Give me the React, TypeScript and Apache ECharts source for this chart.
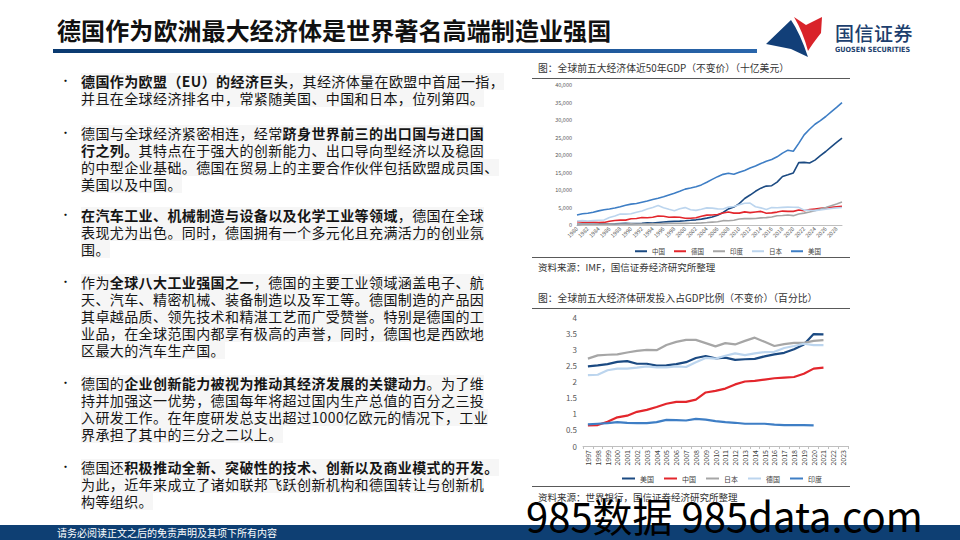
import React, { useEffect, useRef } from "react";
import * as echarts from "echarts";

// ---------- Chart 1: GDP (billion USD) ----------
const gdpYears: string[] = [];
for (let y = 1980; y <= 2029; y++) gdpYears.push(String(y));

const gdpChina = [191, 196, 205, 230, 260, 309, 301, 327, 408, 457, 395, 415, 495, 623, 566, 736, 867, 965, 1032, 1097, 1214, 1344, 1477, 1671, 1966, 2309, 2775, 3572, 4605, 5122, 6103, 7573, 8560, 9625, 10534, 11114, 11227, 12265, 13842, 14341, 14863, 17820, 17882, 17700, 18530, 19800, 21000, 22300, 23600, 24850];
const gdpGermany = [950, 800, 777, 771, 725, 740, 1049, 1300, 1400, 1398, 1771, 1869, 2123, 2068, 2206, 2592, 2503, 2218, 2243, 2200, 1950, 1950, 2079, 2506, 2815, 2846, 2992, 3421, 3730, 3398, 3396, 3744, 3527, 3733, 3890, 3357, 3469, 3690, 3975, 3889, 3887, 4278, 4082, 4430, 4590, 4750, 4900, 5050, 5200, 5350];
const gdpIndia = [186, 196, 204, 222, 215, 237, 253, 284, 300, 302, 327, 284, 293, 284, 333, 366, 400, 424, 429, 467, 477, 494, 524, 618, 722, 834, 949, 1238, 1224, 1365, 1708, 1823, 1828, 1857, 2039, 2104, 2295, 2651, 2702, 2835, 2672, 3150, 3390, 3730, 4110, 4550, 5000, 5500, 6000, 6550];
const gdpJapan = [1129, 1246, 1159, 1263, 1349, 1428, 2121, 2585, 3125, 3117, 3196, 3657, 3988, 4544, 4998, 5546, 4923, 4492, 4098, 4636, 4968, 4374, 4183, 4519, 4894, 4831, 4601, 4579, 5106, 5289, 5759, 6233, 6272, 5212, 4897, 4445, 5004, 4931, 5041, 5118, 5055, 5034, 4256, 4213, 4110, 4300, 4500, 4700, 4850, 5000];
const gdpUS = [2857, 3207, 3343, 3634, 4037, 4339, 4580, 4855, 5236, 5642, 5963, 6158, 6520, 6859, 7287, 7640, 8073, 8578, 9063, 9631, 10251, 10582, 10929, 11457, 12217, 13039, 13816, 14474, 14770, 14478, 15049, 15600, 16254, 16843, 17551, 18206, 18695, 19477, 20533, 21381, 21060, 23315, 25744, 27358, 28781, 29800, 31000, 32300, 33600, 34950];

// ---------- Chart 2: R&D share of GDP (%) ----------
const rdYears: string[] = [];
for (let y = 1997; y <= 2023; y++) rdYears.push(String(y));

const rdUS = [2.47, 2.5, 2.54, 2.61, 2.63, 2.55, 2.55, 2.49, 2.5, 2.54, 2.6, 2.73, 2.79, 2.72, 2.74, 2.67, 2.69, 2.7, 2.78, 2.84, 2.89, 3.0, 3.15, 3.47, 3.46];
const rdChina = [0.64, 0.65, 0.75, 0.89, 0.94, 1.06, 1.12, 1.21, 1.31, 1.37, 1.37, 1.44, 1.66, 1.71, 1.78, 1.91, 2.0, 2.02, 2.06, 2.1, 2.12, 2.14, 2.24, 2.4, 2.43];
const rdJapan = [2.71, 2.81, 2.83, 2.84, 2.9, 2.95, 2.98, 2.97, 3.13, 3.23, 3.29, 3.29, 3.19, 3.09, 3.19, 3.15, 3.26, 3.36, 3.23, 3.1, 3.16, 3.2, 3.2, 3.26, 3.28];
const rdGermany = [2.2, 2.21, 2.35, 2.4, 2.4, 2.43, 2.47, 2.44, 2.44, 2.47, 2.45, 2.6, 2.73, 2.71, 2.8, 2.87, 2.82, 2.87, 2.91, 2.92, 3.04, 3.1, 3.17, 3.13, 3.13];
const rdIndia = [0.67, 0.69, 0.71, 0.74, 0.72, 0.71, 0.71, 0.74, 0.81, 0.8, 0.79, 0.84, 0.82, 0.77, 0.74, 0.72, 0.69, 0.69, 0.69, 0.66, 0.65, 0.65, 0.65, 0.64];

const FONT = '"Noto Sans CJK SC", "Noto Sans", sans-serif';
const NAVY = "#1b4a82";
const RED = "#e3262c";
const GRAY = "#a6a6a6";
const LIGHT = "#bcd5ee";
const MID = "#3e7ec5";

function line(name: string, data: (number | null)[], color: string, width: number) {
  return {
    name,
    type: "line",
    data,
    showSymbol: false,
    symbol: "none",
    lineStyle: { color, width },
    itemStyle: { color },
  };
}

const option1 = {
  animation: false,
  textStyle: { fontFamily: FONT },
  grid: { left: 57, right: 18, top: 5, bottom: 40 },
  legend: {
    left: 110,
    top: 163,
    itemWidth: 12,
    itemHeight: 2,
    itemGap: 9,
    icon: "rect",
    textStyle: { fontSize: 6.5, color: "#404040", fontFamily: FONT },
    data: ["中国", "德国", "印度", "日本", "美国"],
  },
  xAxis: {
    type: "category",
    data: gdpYears,
    boundaryGap: false,
    axisLine: { lineStyle: { color: "#bfbfbf" } },
    axisTick: { show: false },
    axisLabel: { rotate: 45, interval: 1, fontSize: 5.5, color: "#595959", margin: 3 },
  },
  yAxis: {
    type: "value",
    min: 0,
    max: 40000,
    interval: 5000,
    splitLine: { show: false },
    axisLine: { show: false },
    axisTick: { show: false },
    axisLabel: { fontSize: 5.5, color: "#595959", margin: 5 },
  },
  series: [
    line("中国", gdpChina, NAVY, 1.6),
    line("德国", gdpGermany, RED, 1.6),
    line("印度", gdpIndia, GRAY, 1.6),
    line("日本", gdpJapan, LIGHT, 1.6),
    line("美国", gdpUS, MID, 1.6),
  ],
};

const option2 = {
  animation: false,
  textStyle: { fontFamily: FONT },
  grid: { left: 63, right: 12, top: 7, bottom: 44 },
  legend: {
    left: 97,
    top: 160,
    itemWidth: 13,
    itemHeight: 2,
    itemGap: 10,
    icon: "rect",
    textStyle: { fontSize: 7, color: "#404040", fontFamily: FONT },
    data: ["美国", "中国", "日本", "德国", "印度"],
  },
  xAxis: {
    type: "category",
    data: rdYears,
    boundaryGap: true,
    axisLine: { lineStyle: { color: "#bfbfbf" } },
    axisTick: { show: true, length: 3, lineStyle: { color: "#bfbfbf" } },
    axisLabel: { rotate: 90, interval: 0, fontSize: 7, color: "#404040", margin: 4 },
  },
  yAxis: {
    type: "value",
    min: 0,
    max: 4,
    interval: 0.5,
    splitLine: { show: false },
    axisLine: { show: false },
    axisTick: { show: false },
    axisLabel: { fontSize: 8, color: "#595959", margin: 6 },
  },
  series: [
    line("美国", rdUS, NAVY, 2.2),
    line("中国", rdChina, RED, 2.2),
    line("日本", rdJapan, GRAY, 2.2),
    line("德国", rdGermany, LIGHT, 2.2),
    line("印度", rdIndia, MID, 2.2),
  ],
};

function EChart({ option, style }: { option: any; style: React.CSSProperties }) {
  const ref = useRef<HTMLDivElement>(null);
  useEffect(() => {
    const chart = echarts.init(ref.current as HTMLDivElement, null, { renderer: "svg" });
    chart.setOption(option);
    return () => chart.dispose();
  }, []);
  return <div ref={ref} style={style} />;
}

type Seg = [string, boolean?];
const paragraphs: { top: number; lines: Seg[][] }[] = [
  {
    top: 81,
    lines: [
      [["德国作为欧盟（EU）的经济巨头", true], ["，其经济体量在欧盟中首屈一指，"]],
      [["并且在全球经济排名中，常紧随美国、中国和日本，位列第四。"]],
    ],
  },
  {
    top: 133,
    lines: [
      [["德国与全球经济紧密相连，经常"], ["跻身世界前三的出口国与进口国", true]],
      [["行之列。", true], ["其特点在于强大的创新能力、出口导向型经济以及稳固"]],
      [["的中型企业基础。德国在贸易上的主要合作伙伴包括欧盟成员国、"]],
      [["美国以及中国。"]],
    ],
  },
  {
    top: 215,
    lines: [
      [["在汽车工业、机械制造与设备以及化学工业等领域", true], ["，德国在全球"]],
      [["表现尤为出色。同时，德国拥有一个多元化且充满活力的创业氛"]],
      [["围。"]],
    ],
  },
  {
    top: 282,
    lines: [
      [["作为"], ["全球八大工业强国之一", true], ["，德国的主要工业领域涵盖电子、航"]],
      [["天、汽车、精密机械、装备制造以及军工等。德国制造的产品因"]],
      [["其卓越品质、领先技术和精湛工艺而广受赞誉。特别是德国的工"]],
      [["业品，在全球范围内都享有极高的声誉，同时，德国也是西欧地"]],
      [["区最大的汽车生产国。"]],
    ],
  },
  {
    top: 383,
    lines: [
      [["德国的"], ["企业创新能力被视为推动其经济发展的关键动力", true], ["。为了维"]],
      [["持并加强这一优势，德国每年将超过国内生产总值的百分之三投"]],
      [["入研发工作。在年度研发总支出超过1000亿欧元的情况下，工业"]],
      [["界承担了其中的三分之二以上。"]],
    ],
  },
  {
    top: 467,
    lines: [
      [["德国还"], ["积极推动全新、突破性的技术、创新以及商业模式的开发。", true]],
      [["为此，近年来成立了诸如联邦飞跃创新机构和德国转让与创新机"]],
      [["构等组织。"]],
    ],
  },
];

export default function App() {
  const abs = (s: React.CSSProperties): React.CSSProperties => ({ position: "absolute", ...s });
  return (
    <div
      style={{
        position: "absolute",
        left: 0,
        top: 0,
        width: 960,
        height: 540,
        background: "#ffffff",
        overflow: "hidden",
        fontFamily: FONT,
      }}
    >
      {/* Title */}
      <div
        style={abs({
          left: 57,
          top: 14,
          fontSize: 24,
          fontWeight: 700,
          color: "#111",
          lineHeight: "32px",
          whiteSpace: "nowrap",
          letterSpacing: 0.1,
        })}
      >
        德国作为欧洲最大经济体是世界著名高端制造业强国
      </div>
      <div
        style={abs({
          left: 53,
          top: 49,
          width: 704,
          height: 4,
          background: "linear-gradient(90deg, #0a3a70 0%, #184f8f 60%, #2a66ab 100%)",
        })}
      />

      {/* Logo */}
      <svg style={abs({ left: 760, top: 10, width: 70, height: 52 })} viewBox="760 10 70 52">
        <path d="M 766 44 L 791 20 Q 800 33 808 57 L 791 49 Z" fill="#123f78" />
        <path d="M 794 17 L 806 25 L 822 17 L 821 33 Q 813 43 808 51 Q 803 32 794 17 Z" fill="#d9232a" />
      </svg>
      <div
        style={abs({
          left: 835,
          top: 21,
          fontSize: 19,
          fontWeight: 500,
          color: "#1d3f6e",
          lineHeight: "24px",
          whiteSpace: "nowrap",
          letterSpacing: 0.5,
        })}
      >
        国信证券
      </div>
      <div
        style={abs({
          left: 835,
          top: 45,
          fontSize: 7.2,
          fontWeight: 700,
          color: "#1d3f6e",
          lineHeight: "10px",
          whiteSpace: "nowrap",
          fontFamily: '"Liberation Sans Narrow", "DejaVu Sans Condensed", sans-serif',
        })}
      >
        GUOSEN SECURITIES
      </div>

      {/* Body text */}
      {paragraphs.map((p, pi) => (
        <React.Fragment key={pi}>
          <div style={abs({ left: 60, top: p.top - 9, fontSize: 11, lineHeight: "17px", color: "#111" })}>•</div>
          {p.lines.map((ln, li) => (
            <div
              key={li}
              style={abs({
                left: 81,
                top: p.top - 8.5 + li * 17,
                height: 17,
                fontSize: 14,
                letterSpacing: 0.4,
                lineHeight: "17px",
                color: "#151515",
                whiteSpace: "nowrap",
                background: "#f6f6f6",
              })}
            >
              {ln.map((s, si) => (
                <span key={si} style={{ fontWeight: s[1] ? 700 : 400 }}>
                  {s[0]}
                </span>
              ))}
            </div>
          ))}
        </React.Fragment>
      ))}

      {/* Chart 1 */}
      <div style={abs({ left: 538, top: 61, fontSize: 9.8, color: "#333", whiteSpace: "nowrap", lineHeight: "14px" })}>
        图：全球前五大经济体近50年GDP（不变价）（十亿美元）
      </div>
      <div style={abs({ left: 532, top: 78, width: 318, height: 1, background: "#595959" })} />
      <EChart option={option1} style={abs({ left: 520, top: 80, width: 340, height: 185 })} />
      <div style={abs({ left: 532, top: 257, width: 318, height: 1, background: "#595959" })} />
      <div style={abs({ left: 538, top: 260, fontSize: 9.5, color: "#333", whiteSpace: "nowrap", lineHeight: "14px" })}>
        资料来源：IMF，国信证券经济研究所整理
      </div>

      {/* Chart 2 */}
      <div style={abs({ left: 538, top: 291, fontSize: 9.8, color: "#333", whiteSpace: "nowrap", lineHeight: "14px" })}>
        图：全球前五大经济体研发投入占GDP比例（不变价）（百分比）
      </div>
      <div style={abs({ left: 532, top: 308, width: 318, height: 1, background: "#595959" })} />
      <EChart option={option2} style={abs({ left: 520, top: 310, width: 340, height: 180 })} />
      <div style={abs({ left: 532, top: 486, width: 318, height: 1, background: "#595959" })} />
      <div style={abs({ left: 538, top: 490, fontSize: 9.5, color: "#333", whiteSpace: "nowrap", lineHeight: "14px" })}>
        资料来源：世界银行，国信证券经济研究所整理
      </div>

      {/* Footer */}
      <div style={abs({ left: 0, top: 525, width: 960, height: 15, background: "#0e3f73" })} />
      <div
        style={abs({ left: 57, top: 525, fontSize: 10, lineHeight: "15px", color: "#ffffff", whiteSpace: "nowrap" })}
      >
        请务必阅读正文之后的免责声明及其项下所有内容
      </div>

      {/* Watermark */}
      <div
        style={abs({
          left: 526,
          top: 492,
          fontSize: 40,
          lineHeight: "46px",
          color: "#000",
          whiteSpace: "nowrap",
          fontFamily: FONT,
          fontWeight: 400,
        })}
      >
        985数据 985data.com
      </div>
    </div>
  );
}
